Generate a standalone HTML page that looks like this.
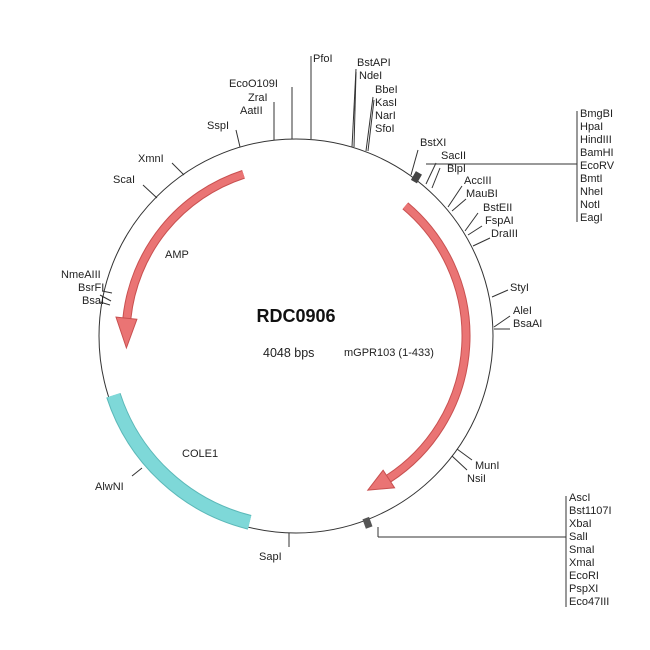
<!DOCTYPE html>
<html><head><meta charset="utf-8"><style>
html,body{margin:0;padding:0;background:#fff}
svg{display:block}
text{font-family:"Liberation Sans",Arial,sans-serif;font-size:11px;fill:#222}
</style></head><body>
<svg width="650" height="650" viewBox="0 0 650 650" xmlns="http://www.w3.org/2000/svg">
<circle cx="296" cy="336" r="197" fill="none" stroke="#333" stroke-width="1"/>
<!-- COLE1 -->
<path d="M 249.6 522.3 A 192 192 0 0 1 113.4 395.3" fill="none" stroke="#5bb8b8" stroke-width="15"/>
<path d="M 249.6 522.3 A 192 192 0 0 1 113.4 395.3" fill="none" stroke="#7ed8d8" stroke-width="13"/>
<!-- AMP arrow -->
<path d="M 243.5 174.3 A 170 170 0 0 0 126.9 318.2" fill="none" stroke="#c85050" stroke-width="9"/>
<path d="M 243.5 174.3 A 170 170 0 0 0 126.9 318.2" fill="none" stroke="#ea7474" stroke-width="7"/>
<polygon points="136.9,319.3 116,317.1 126.4,347.9" fill="#ea7474" stroke="#c85050" stroke-width="1"/>
<!-- mGPR arrow -->
<path d="M 405.3 205.8 A 170 170 0 0 1 388.6 478.6" fill="none" stroke="#c85050" stroke-width="9"/>
<path d="M 405.3 205.8 A 170 170 0 0 1 388.6 478.6" fill="none" stroke="#ea7474" stroke-width="7"/>
<polygon points="383.1,470.2 394.6,487.8 367.8,490.1" fill="#ea7474" stroke="#c85050" stroke-width="1"/>

<g stroke="#333" stroke-width="1" fill="none">
<line x1="311" y1="139" x2="311" y2="56"/>
<line x1="292" y1="139" x2="292" y2="87"/>
<line x1="274" y1="140" x2="274" y2="102"/>
<line x1="240" y1="147" x2="236" y2="130"/>
<line x1="352" y1="147" x2="356" y2="69"/>
<line x1="354" y1="147" x2="356" y2="72"/>
<line x1="366" y1="151" x2="373" y2="97"/>
<line x1="368" y1="151" x2="374" y2="100"/>
<line x1="411" y1="175" x2="418" y2="150"/>
<line x1="426" y1="184" x2="436" y2="163"/>
<line x1="432" y1="188" x2="440" y2="168"/>
<line x1="426" y1="164" x2="577" y2="164"/>
<line x1="577" y1="111" x2="577" y2="222"/>
<line x1="448" y1="207" x2="462" y2="186"/>
<line x1="452" y1="211" x2="466" y2="199"/>
<line x1="465" y1="231" x2="478" y2="213"/>
<line x1="468" y1="235" x2="482" y2="226"/>
<line x1="473" y1="246" x2="490" y2="238"/>
<line x1="492" y1="297" x2="508" y2="290"/>
<line x1="494" y1="327" x2="510" y2="316"/>
<line x1="494" y1="329" x2="510" y2="329"/>
<line x1="457" y1="449" x2="472" y2="460"/>
<line x1="452" y1="456" x2="467" y2="470"/>
<line x1="378" y1="527" x2="378" y2="537"/>
<line x1="378" y1="537" x2="566" y2="537"/>
<line x1="566" y1="496" x2="566" y2="607"/>
<line x1="289" y1="533" x2="289" y2="547"/>
<line x1="142" y1="468" x2="132" y2="476"/>
<line x1="102" y1="291" x2="112" y2="293"/>
<line x1="100" y1="295" x2="111" y2="301"/>
<line x1="100" y1="302" x2="110" y2="305"/>
<line x1="143" y1="185" x2="157" y2="198"/>
<line x1="172" y1="163" x2="184" y2="175"/>
</g>
<rect x="413" y="172" width="7" height="10" fill="#444" transform="rotate(30 416 177)"/>
<rect x="364" y="518" width="7" height="10" fill="#555" transform="rotate(-20 367 523)"/>

<text x="313" y="62">PfoI</text>
<text x="229" y="87">EcoO109I</text>
<text x="248" y="101">ZraI</text>
<text x="240" y="114">AatII</text>
<text x="207" y="129">SspI</text>
<text x="357" y="66">BstAPI</text>
<text x="359" y="79">NdeI</text>
<text x="375" y="93">BbeI</text>
<text x="375" y="106">KasI</text>
<text x="375" y="119">NarI</text>
<text x="375" y="132">SfoI</text>
<text x="420" y="146">BstXI</text>
<text x="441" y="159">SacII</text>
<text x="447" y="172">BlpI</text>
<text x="580" y="117">BmgBI</text>
<text x="580" y="130">HpaI</text>
<text x="580" y="143">HindIII</text>
<text x="580" y="156">BamHI</text>
<text x="580" y="169">EcoRV</text>
<text x="580" y="182">BmtI</text>
<text x="580" y="195">NheI</text>
<text x="580" y="208">NotI</text>
<text x="580" y="221">EagI</text>
<text x="464" y="184">AccIII</text>
<text x="466" y="197">MauBI</text>
<text x="483" y="211">BstEII</text>
<text x="485" y="224">FspAI</text>
<text x="491" y="237">DraIII</text>
<text x="510" y="291">StyI</text>
<text x="513" y="314">AleI</text>
<text x="513" y="327">BsaAI</text>
<text x="475" y="469">MunI</text>
<text x="467" y="482">NsiI</text>
<text x="569" y="501">AscI</text>
<text x="569" y="514">Bst1107I</text>
<text x="569" y="527">XbaI</text>
<text x="569" y="540">SalI</text>
<text x="569" y="553">SmaI</text>
<text x="569" y="566">XmaI</text>
<text x="569" y="579">EcoRI</text>
<text x="569" y="592">PspXI</text>
<text x="569" y="605">Eco47III</text>
<text x="259" y="560">SapI</text>
<text x="95" y="490">AlwNI</text>
<text x="61" y="278">NmeAIII</text>
<text x="78" y="291">BsrFI</text>
<text x="82" y="304">BsaI</text>
<text x="113" y="183">ScaI</text>
<text x="138" y="162">XmnI</text>
<text x="165" y="258">AMP</text>
<text x="182" y="457">COLE1</text>
<text x="296" y="322" text-anchor="middle" style="font-size:18px;font-weight:bold;fill:#111">RDC0906</text>
<text x="263" y="357" style="font-size:12.5px">4048 bps</text>
<text x="344" y="356">mGPR103 (1-433)</text>
</svg>
</body></html>
